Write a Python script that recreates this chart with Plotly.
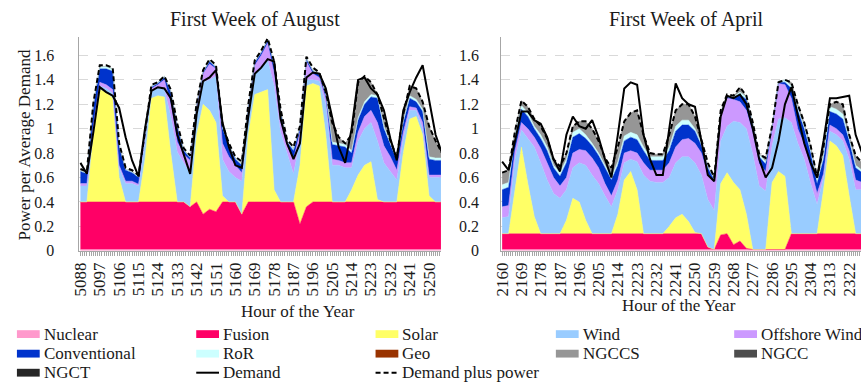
import plotly.graph_objects as go

# Hour-of-year sample points (every 3 hours over one week)
hours_aug = list(range(5088, 5257, 3))
hours_apr = list(range(2160, 2329, 3))

# ---------------- First week of August (power / average demand) ----------------
nuclear_aug = [0.01, 0.01, 0.01, 0.01, 0.01, 0.01, 0.01, 0.01, 0.01, 0.01, 0.01, 0.01,
               0.01, 0.01, 0.01, 0.01, 0.01, 0.01, 0.01, 0.01, 0.01, 0.01, 0.01, 0.01,
               0.01, 0.01, 0.01, 0.01, 0.01, 0.01, 0.01, 0.01, 0.01, 0.01, 0.01, 0.01,
               0.01, 0.01, 0.01, 0.01, 0.01, 0.01, 0.01, 0.01, 0.01, 0.01, 0.01, 0.01,
               0.01, 0.01, 0.01, 0.01, 0.01, 0.01, 0.01, 0.01, 0.01]
fusion_aug = [0.39, 0.39, 0.39, 0.39, 0.39, 0.39, 0.39, 0.39, 0.39, 0.39, 0.39, 0.39,
              0.39, 0.39, 0.39, 0.39, 0.39, 0.35, 0.39, 0.29, 0.33, 0.31, 0.39, 0.39,
              0.39, 0.29, 0.39, 0.39, 0.39, 0.39, 0.39, 0.39, 0.39, 0.39, 0.21, 0.35,
              0.39, 0.39, 0.39, 0.39, 0.39, 0.39, 0.39, 0.39, 0.39, 0.39, 0.39, 0.39,
              0.39, 0.39, 0.39, 0.39, 0.39, 0.39, 0.39, 0.39, 0.39]
solar_aug = [0.00, 0.00, 0.55, 0.92, 0.90, 0.85, 0.20, 0.00, 0.00, 0.00, 0.35, 0.85,
             0.87, 0.86, 0.40, 0.00, 0.00, 0.00, 0.55, 0.90, 0.81, 0.73, 0.05, 0.00,
             0.00, 0.00, 0.55, 0.88, 0.90, 0.92, 0.10, 0.00, 0.00, 0.00, 0.48, 0.99,
             0.97, 0.95, 0.55, 0.00, 0.00, 0.00, 0.10, 0.22, 0.30, 0.33, 0.02, 0.00,
             0.00, 0.00, 0.40, 0.68, 0.70, 0.55, 0.05, 0.00, 0.00]
wind_aug = [0.13, 0.13, 0.04, 0.03, 0.03, 0.04, 0.08, 0.15, 0.15, 0.13, 0.15, 0.06,
            0.06, 0.06, 0.30, 0.41, 0.32, 0.27, 0.15, 0.18, 0.25, 0.38, 0.30, 0.25,
            0.20, 0.27, 0.15, 0.17, 0.20, 0.24, 0.85, 0.57, 0.40, 0.23, 0.20, 0.05,
            0.03, 0.04, 0.25, 0.30, 0.30, 0.28, 0.18, 0.28, 0.30, 0.32, 0.48, 0.32,
            0.25, 0.18, 0.12, 0.07, 0.05, 0.05, 0.15, 0.20, 0.20]
offshore_aug = [0.02, 0.02, 0.03, 0.03, 0.03, 0.03, 0.02, 0.02, 0.02, 0.015, 0.03, 0.02,
                0.03, 0.08, 0.10, 0.08, 0.07, 0.11, 0.07, 0.07, 0.13, 0.06, 0.13, 0.12,
                0.10, 0.07, 0.05, 0.07, 0.10, 0.14, 0.10, 0.08, 0.06, 0.12, 0.07, 0.15,
                0.05, 0.03, 0.05, 0.05, 0.04, 0.04, 0.04, 0.07, 0.10, 0.10, 0.15, 0.14,
                0.12, 0.08, 0.05, 0.03, 0.02, 0.05, 0.02, 0.02, 0.02]
conventional_aug = [0.10, 0.08, 0.16, 0.11, 0.13, 0.15, 0.15, 0.09, 0.07, 0.055, 0.02, 0.01,
                    0.01, 0.02, 0.10, 0.13, 0.03, 0.02, 0.02, 0.01, 0.02, 0.01, 0.12, 0.09,
                    0.05, 0.06, 0.03, 0.02, 0.02, 0.02, 0.07, 0.08, 0.03, 0.07, 0.03, 0.02,
                    0.02, 0.02, 0.03, 0.12, 0.12, 0.13, 0.08, 0.10, 0.10, 0.11, 0.20, 0.14,
                    0.10, 0.08, 0.08, 0.07, 0.05, 0.09, 0.13, 0.12, 0.12]
ror_aug = [0.01, 0.01, 0.02, 0.02, 0.02, 0.02, 0.02, 0.01, 0.01, 0.01, 0.01, 0.01,
           0.01, 0.01, 0.01, 0.01, 0.01, 0.01, 0.01, 0.01, 0.01, 0.01, 0.02, 0.01,
           0.01, 0.01, 0.01, 0.01, 0.01, 0.01, 0.02, 0.02, 0.01, 0.02, 0.01, 0.01,
           0.01, 0.01, 0.01, 0.02, 0.02, 0.02, 0.02, 0.02, 0.02, 0.02, 0.02, 0.02,
           0.01, 0.01, 0.01, 0.02, 0.02, 0.02, 0.02, 0.02, 0.02]
ngccs_aug = [0.00, 0.00, 0.00, 0.00, 0.00, 0.00, 0.00, 0.00, 0.00, 0.00, 0.00, 0.00,
             0.00, 0.00, 0.00, 0.00, 0.00, 0.00, 0.00, 0.00, 0.00, 0.00, 0.00, 0.00,
             0.00, 0.00, 0.00, 0.00, 0.00, 0.00, 0.00, 0.00, 0.00, 0.00, 0.00, 0.00,
             0.00, 0.00, 0.00, 0.16, 0.05, 0.01, 0.13, 0.29, 0.21, 0.10, 0.01, 0.06,
             0.02, 0.02, 0.06, 0.08, 0.09, 0.06, 0.25, 0.14, 0.04]
demand_aug = [0.72, 0.63, 0.97, 1.34, 1.30, 1.27, 1.17, 0.93, 0.74, 0.61, 1.00, 1.31,
              1.34, 1.33, 1.25, 0.95, 0.79, 0.63, 1.12, 1.39, 1.42, 1.48, 1.05, 0.85,
              0.70, 0.68, 1.10, 1.45, 1.50, 1.57, 1.55, 1.08, 0.88, 0.75, 0.88, 1.42,
              1.46, 1.45, 1.33, 1.10, 0.85, 0.72, 1.00, 1.40, 1.42, 1.33, 1.28, 1.15,
              0.92, 0.74, 1.15, 1.30, 1.42, 1.52, 1.25, 0.95, 0.80]
demand_plus_aug = [0.67, 0.65, 1.21, 1.52, 1.52, 1.50, 0.88, 0.68, 0.66, 0.62, 0.97, 1.36,
                   1.38, 1.43, 1.32, 1.04, 0.84, 0.78, 1.21, 1.48, 1.57, 1.52, 1.03, 0.88,
                   0.77, 0.73, 1.20, 1.56, 1.64, 1.74, 1.55, 1.16, 0.91, 0.85, 1.02, 1.59,
                   1.50, 1.46, 1.30, 1.05, 0.93, 0.88, 0.95, 1.38, 1.43, 1.38, 1.28, 1.08,
                   0.90, 0.77, 1.12, 1.35, 1.33, 1.22, 1.02, 0.90, 0.80]

# ---------------- First week of April ----------------
nuclear_apr = [0.01, 0.01, 0.01, 0.01, 0.01, 0.01, 0.01, 0.01, 0.01, 0.01, 0.01, 0.01,
               0.01, 0.01, 0.01, 0.01, 0.01, 0.01, 0.01, 0.01, 0.01, 0.01, 0.01, 0.01,
               0.01, 0.01, 0.01, 0.01, 0.01, 0.01, 0.01, 0.01, 0.01, 0.01, 0.01, 0.01,
               0.01, 0.01, 0.01, 0.01, 0.01, 0.01, 0.01, 0.01, 0.01, 0.01, 0.01, 0.01,
               0.01, 0.01, 0.01, 0.01, 0.01, 0.01, 0.01, 0.01, 0.01]
fusion_apr = [0.13, 0.13, 0.13, 0.13, 0.13, 0.13, 0.13, 0.13, 0.13, 0.13, 0.13, 0.13,
              0.13, 0.13, 0.13, 0.13, 0.13, 0.13, 0.13, 0.13, 0.13, 0.13, 0.13, 0.13,
              0.13, 0.13, 0.13, 0.13, 0.13, 0.13, 0.13, 0.13, 0.02, 0.00, 0.12, 0.13,
              0.04, 0.07, 0.01, 0.00, 0.00, 0.00, 0.00, 0.00, 0.00, 0.13, 0.13, 0.13,
              0.13, 0.13, 0.13, 0.13, 0.13, 0.13, 0.13, 0.13, 0.13]
solar_apr = [0.00, 0.00, 0.36, 0.71, 0.41, 0.14, 0.00, 0.00, 0.00, 0.00, 0.11, 0.29,
             0.26, 0.11, 0.00, 0.00, 0.00, 0.00, 0.16, 0.44, 0.51, 0.36, 0.00, 0.00,
             0.00, 0.00, 0.06, 0.13, 0.16, 0.10, 0.01, 0.00, 0.00, 0.00, 0.42, 0.50,
             0.51, 0.42, 0.28, 0.00, 0.00, 0.00, 0.55, 0.64, 0.60, 0.00, 0.00, 0.00,
             0.00, 0.00, 0.36, 0.76, 0.72, 0.64, 0.31, 0.00, 0.00]
wind_apr = [0.13, 0.14, 0.25, 0.14, 0.37, 0.57, 0.58, 0.44, 0.33, 0.29, 0.25, 0.25,
            0.32, 0.45, 0.48, 0.41, 0.31, 0.22, 0.20, 0.14, 0.10, 0.23, 0.48, 0.43,
            0.42, 0.42, 0.40, 0.45, 0.47, 0.53, 0.57, 0.48, 0.39, 0.32, 0.35, 0.38,
            0.50, 0.55, 0.70, 0.78, 0.52, 0.48, 0.30, 0.43, 0.48, 0.91, 0.74, 0.61,
            0.41, 0.24, 0.10, 0.08, 0.09, 0.12, 0.30, 0.36, 0.36]
offshore_apr = [0.09, 0.09, 0.07, 0.06, 0.08, 0.08, 0.12, 0.14, 0.13, 0.10, 0.10, 0.12,
                0.11, 0.12, 0.14, 0.13, 0.10, 0.09, 0.08, 0.08, 0.07, 0.07, 0.10, 0.09,
                0.10, 0.10, 0.12, 0.13, 0.14, 0.15, 0.16, 0.18, 0.20, 0.23, 0.20, 0.23,
                0.18, 0.17, 0.15, 0.17, 0.18, 0.16, 0.13, 0.29, 0.27, 0.20, 0.12, 0.12,
                0.13, 0.09, 0.03, 0.05, 0.05, 0.05, 0.07, 0.08, 0.06]
conventional_apr = [0.14, 0.15, 0.10, 0.11, 0.10, 0.07, 0.08, 0.10, 0.08, 0.08, 0.12, 0.13,
                    0.13, 0.10, 0.10, 0.10, 0.13, 0.13, 0.12, 0.10, 0.11, 0.11, 0.10, 0.08,
                    0.08, 0.08, 0.10, 0.13, 0.12, 0.11, 0.10, 0.06, 0.06, 0.02, 0.02, 0.01,
                    0.01, 0.06, 0.09, 0.07, 0.06, 0.06, 0.02, 0.01, 0.02, 0.08, 0.15, 0.13,
                    0.12, 0.08, 0.12, 0.11, 0.12, 0.13, 0.08, 0.10, 0.08]
ror_apr = [0.04, 0.04, 0.03, 0.03, 0.03, 0.02, 0.03, 0.03, 0.02, 0.03, 0.03, 0.04,
           0.04, 0.03, 0.02, 0.02, 0.02, 0.02, 0.03, 0.04, 0.04, 0.04, 0.03, 0.03,
           0.03, 0.03, 0.03, 0.04, 0.04, 0.04, 0.02, 0.02, 0.02, 0.02, 0.02, 0.01,
           0.01, 0.02, 0.02, 0.02, 0.02, 0.02, 0.01, 0.01, 0.02, 0.02, 0.02, 0.02,
           0.03, 0.03, 0.03, 0.04, 0.04, 0.04, 0.02, 0.02, 0.02]
ngccs_apr = [0.10, 0.10, 0.03, 0.04, 0.05, 0.06, 0.07, 0.07, 0.05, 0.05, 0.05, 0.05,
             0.06, 0.11, 0.12, 0.10, 0.06, 0.08, 0.12, 0.12, 0.16, 0.20, 0.10, 0.03,
             0.02, 0.02, 0.10, 0.13, 0.13, 0.13, 0.10, 0.02, 0.00, 0.00, 0.00, 0.00,
             0.00, 0.04, 0.00, 0.00, 0.00, 0.04, 0.00, 0.00, 0.00, 0.03, 0.03, 0.03,
             0.03, 0.02, 0.07, 0.02, 0.06, 0.08, 0.03, 0.08, 0.06]
demand_apr = [0.73, 0.66, 0.90, 1.14, 1.14, 1.07, 1.04, 0.93, 0.75, 0.65, 0.95, 1.10,
              1.02, 1.00, 1.07, 0.93, 0.75, 0.60, 0.95, 1.33, 1.38, 1.36, 0.95, 0.75,
              0.62, 0.62, 1.00, 1.37, 1.25, 1.20, 1.18, 0.90, 0.62, 0.57, 1.10, 1.27,
              1.25, 1.28, 1.20, 1.00, 0.75, 0.60, 0.68, 0.90, 1.20, 1.34, 1.12, 0.88,
              0.72, 0.60, 0.90, 1.25, 1.25, 1.26, 1.27, 0.95, 0.80]
demand_plus_apr = [0.64, 0.66, 0.98, 1.23, 1.18, 1.08, 1.02, 0.92, 0.75, 0.69, 0.80, 1.02,
                   1.06, 1.06, 1.00, 0.90, 0.76, 0.68, 0.85, 1.06, 1.13, 1.15, 0.95, 0.80,
                   0.79, 0.79, 0.95, 1.15, 1.20, 1.20, 1.10, 0.90, 0.72, 0.60, 1.15, 1.28,
                   1.27, 1.34, 1.27, 1.05, 0.79, 0.76, 1.02, 1.38, 1.40, 1.38, 1.20, 1.05,
                   0.86, 0.60, 0.85, 1.20, 1.22, 1.20, 0.95, 0.78, 0.72]

# Stack order (bottom to top) with fill colours
sources = [
    ("Nuclear", "#FF99CC", nuclear_aug, nuclear_apr),
    ("Fusion", "#FF0066", fusion_aug, fusion_apr),
    ("Solar", "#FFFF66", solar_aug, solar_apr),
    ("Wind", "#99CCFF", wind_aug, wind_apr),
    ("Offshore Wind", "#CC99FF", offshore_aug, offshore_apr),
    ("Conventional", "#0033CC", conventional_aug, conventional_apr),
    ("RoR", "#CCFFFF", ror_aug, ror_apr),
    ("NGCCS", "#969696", ngccs_aug, ngccs_apr),
]

SERIF = "Liberation Serif, Times New Roman, serif"
W, H = 861, 390

fig = go.Figure()

for name, color, vals_aug, vals_apr in sources:
    fig.add_trace(go.Scatter(x=hours_aug, y=vals_aug, name=name, stackgroup="aug",
                             mode="lines", line=dict(width=0.5, color=color),
                             fillcolor=color, showlegend=False,
                             xaxis="x", yaxis="y"))
    fig.add_trace(go.Scatter(x=hours_apr, y=vals_apr, name=name, stackgroup="apr",
                             mode="lines", line=dict(width=0.5, color=color),
                             fillcolor=color, showlegend=False,
                             xaxis="x2", yaxis="y2"))

for xs, d, dp, xa, ya in [(hours_aug, demand_aug, demand_plus_aug, "x", "y"),
                          (hours_apr, demand_apr, demand_plus_apr, "x2", "y2")]:
    fig.add_trace(go.Scatter(x=xs, y=dp, name="Demand plus power", mode="lines",
                             line=dict(color="black", width=2, dash="5px,3px"),
                             showlegend=False, xaxis=xa, yaxis=ya))
    fig.add_trace(go.Scatter(x=xs, y=d, name="Demand", mode="lines",
                             line=dict(color="black", width=2),
                             showlegend=False, xaxis=xa, yaxis=ya))

# Plot area placement in pixels
Y_TOP, Y_BOT = 38, 256.7
LEFT_X0, LEFT_X1 = 72, 437
RIGHT_X0, RIGHT_X1 = 497.7, 861
ydom = [1 - Y_BOT / H, 1 - Y_TOP / H]

def xaxis_style(x0, x1, tick0, anchor):
    return dict(domain=[x0 / W, x1 / W], anchor=anchor,
                range=[tick0 - 0.5, tick0 + 167.5],
                tickmode="linear", tick0=tick0, dtick=9, tickangle=-90,
                ticks="outside", ticklen=4, tickcolor="#a6a6a6",
                minor=dict(dtick=1, tick0=tick0, ticks="outside", ticklen=4,
                           tickcolor="#a6a6a6"),
                showline=True, linecolor="#a6a6a6", linewidth=1,
                showgrid=False, zeroline=False,
                tickfont=dict(family=SERIF, size=17, color="#1a1a1a"))

def yaxis_style(anchor, standoff):
    return dict(domain=ydom, anchor=anchor, range=[0, 1.75],
                tickmode="linear", tick0=0, dtick=0.2,
                showline=True, linecolor="#a6a6a6", linewidth=1,
                showgrid=True, gridcolor="#d9d9d9", griddash="dash", gridwidth=1,
                zeroline=False, ticks="", ticklabelstandoff=standoff,
                tickfont=dict(family=SERIF, size=16, color="#1a1a1a"))

fig.update_layout(
    width=W, height=H,
    margin=dict(l=0, r=0, t=0, b=0),
    paper_bgcolor="white", plot_bgcolor="white",
    showlegend=False,
    xaxis=xaxis_style(LEFT_X0, LEFT_X1, 5088, "y"),
    yaxis=yaxis_style("x", 21),
    xaxis2=xaxis_style(RIGHT_X0, RIGHT_X1, 2160, "y2"),
    yaxis2=yaxis_style("x2", 18),
)

def px(x):
    return x / W

def py(y):
    return 1 - y / H

annotations = [
    dict(text="First Week of August", x=px(249), y=py(20), size=20),
    dict(text="First Week of April", x=px(685), y=py(20), size=20),
    dict(text="Hour of the Year", x=px(293), y=py(319), size=17),
    dict(text="Hour of the Year", x=px(677), y=py(313), size=17),
]
for a in annotations:
    fig.add_annotation(text=a["text"], x=a["x"], y=a["y"], xref="paper", yref="paper",
                       xanchor="center", yanchor="middle", showarrow=False,
                       font=dict(family=SERIF, size=a["size"], color="#1a1a1a"))

fig.add_annotation(text="Power per Average Demand", x=px(17), y=py(148),
                   xref="paper", yref="paper", textangle=-90, showarrow=False,
                   xanchor="center", yanchor="middle",
                   font=dict(family=SERIF, size=17, color="#1a1a1a"))

# Legend drawn as patches / line samples with labels
legend_rows = [
    [("Nuclear", "#FF99CC", "box"), ("Fusion", "#FF0066", "box"), ("Solar", "#FFFF66", "box"),
     ("Wind", "#99CCFF", "box"), ("Offshore Wind", "#CC99FF", "box")],
    [("Conventional", "#0033CC", "box"), ("RoR", "#CCFFFF", "box"), ("Geo", "#993300", "box"),
     ("NGCCS", "#969696", "box"), ("NGCC", "#4D4D4D", "box")],
    [("NGCT", "#262626", "box"), ("Demand", "black", "solid"),
     ("Demand plus power", "black", "dash")],
]
col_x = [9, 190, 371, 553, 733]
row_y = [342, 362, 381.5]
for r, row in enumerate(legend_rows):
    for c, (label, color, kind) in enumerate(row):
        x0 = col_x[c]
        yc = row_y[r]
        if kind == "box":
            fig.add_shape(type="rect", xref="paper", yref="paper",
                          x0=px(x0), x1=px(x0 + 23), y0=py(yc + 4), y1=py(yc - 4),
                          fillcolor=color, line=dict(width=0))
        else:
            fig.add_shape(type="line", xref="paper", yref="paper",
                          x0=px(x0), x1=px(x0 + 23), y0=py(yc), y1=py(yc),
                          line=dict(color=color, width=2,
                                    dash="solid" if kind == "solid" else "5px,3px"))
        fig.add_annotation(text=label, x=px(x0 + 25), y=py(yc), xref="paper", yref="paper",
                           xanchor="left", yanchor="middle", showarrow=False,
                           font=dict(family=SERIF, size=17, color="#1a1a1a"))

fig.write_html("out.html")
